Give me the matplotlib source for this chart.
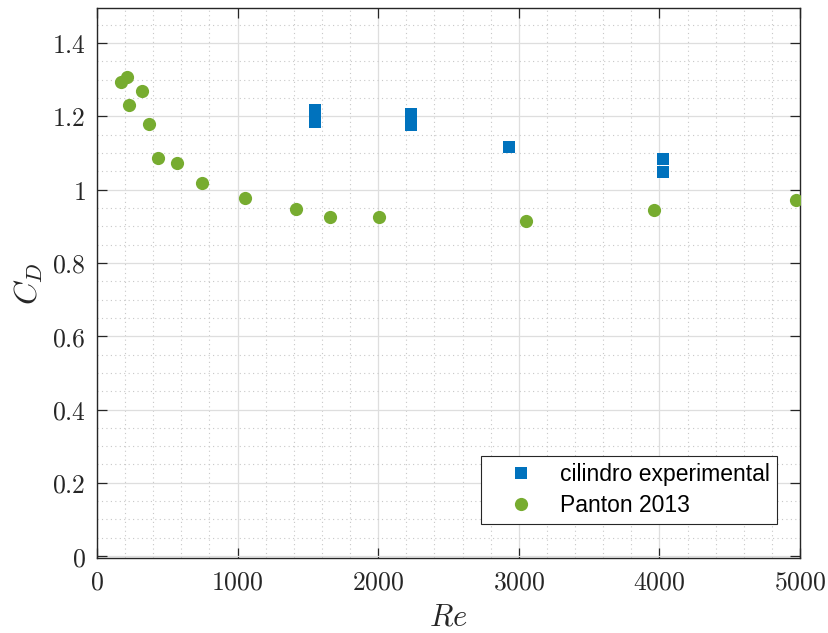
import numpy as np
import matplotlib.pyplot as plt
from matplotlib.ticker import MultipleLocator, FuncFormatter

plt.rcParams['mathtext.fontset'] = 'cm'

# experimental cylinder
re_exp = [1550, 1550, 1550, 2230, 2230, 2230, 2927, 4029, 4029]
cd_exp = [1.217, 1.20, 1.185, 1.207, 1.19, 1.177, 1.117, 1.084, 1.049]

# Panton 2013
re_panton = [171, 213, 320, 228, 370, 434, 569, 747, 1053, 1415, 1657, 2006, 3051, 3962, 4972]
cd_panton = [1.295, 1.308, 1.268, 1.230, 1.178, 1.086, 1.073, 1.018, 0.977,
             0.947, 0.925, 0.925, 0.914, 0.944, 0.971]

fig = plt.figure(figsize=(8.29, 6.33), dpi=100)
ax = fig.add_axes([0.117, 0.118, 0.848, 0.869])

ax.plot(re_exp, cd_exp, 's', color='#0072BD', markersize=8, markeredgewidth=0,
        label='cilindro experimental', zorder=3)
ax.plot(re_panton, cd_panton, 'o', color='#77AC30', markersize=9.5, markeredgewidth=0,
        label='Panton 2013', zorder=3)

ax.set_xlim(0, 5000)
ax.set_ylim(-0.006, 1.495)
ax.xaxis.set_major_locator(MultipleLocator(1000))
ax.xaxis.set_minor_locator(MultipleLocator(200))
ax.yaxis.set_major_locator(MultipleLocator(0.2))
ax.yaxis.set_minor_locator(MultipleLocator(0.05))

fmt = FuncFormatter(lambda v, p: '$%s$' % ('%g' % round(v, 4)))
ax.xaxis.set_major_formatter(fmt)
ax.yaxis.set_major_formatter(fmt)

ax.grid(True, which='major', color='#dedede', linewidth=0.9, linestyle='-')
ax.grid(True, which='minor', color='#c8c8c8', linewidth=0.8, linestyle=(0, (1, 3)))
ax.set_axisbelow(True)

ax.tick_params(which='major', direction='in', length=7, width=0.9, top=True, right=True,
               labelsize=18.5, colors='#262626', pad=8)
ax.tick_params(which='minor', length=0)
for s in ax.spines.values():
    s.set_color('#262626')
    s.set_linewidth(1.0)

ax.set_xlabel('$Re$', fontsize=22, color='#262626', labelpad=5)
ax.set_ylabel('$C_D$', fontsize=23, color='#262626', labelpad=5)

leg = ax.legend(loc='lower right', bbox_to_anchor=(0.967, 0.063), borderaxespad=0,
                fancybox=False, edgecolor='#262626', framealpha=1,
                prop={'family': 'Liberation Sans', 'size': 16.5},
                handletextpad=0.25, borderpad=0.3, labelspacing=0.33, handlelength=2.9)
leg.get_frame().set_linewidth(0.8)

fig.savefig('out.png', dpi=100)
